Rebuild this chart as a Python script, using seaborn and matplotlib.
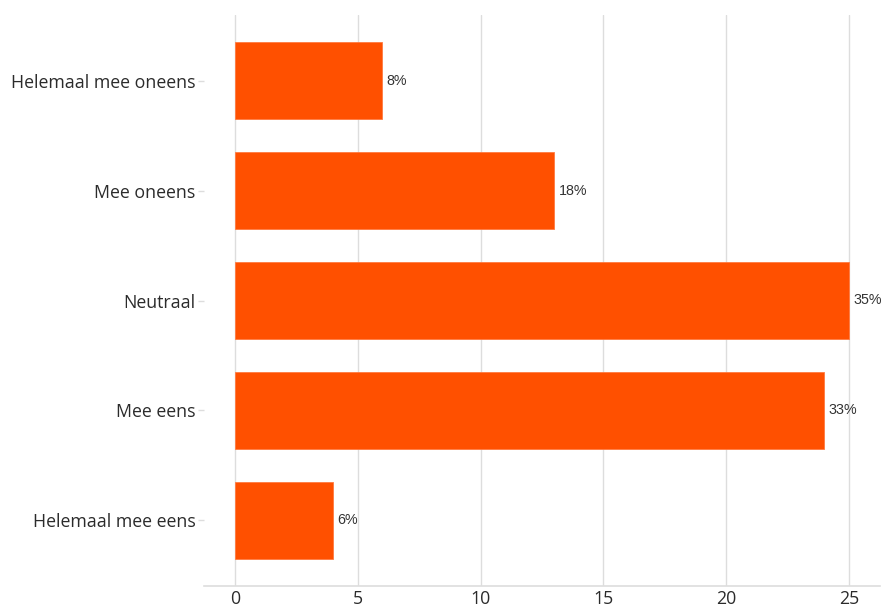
import matplotlib
matplotlib.use("Agg")
import matplotlib.pyplot as plt
import seaborn as sns
import pandas as pd

categories = ["Helemaal mee oneens", "Mee oneens", "Neutraal", "Mee eens", "Helemaal mee eens"]
counts = [6, 13, 25, 24, 4]
pct_labels = ["8%", "18%", "35%", "33%", "6%"]

sns.set_theme(style="white")
plt.rcParams['font.family'] = ['Open Sans', 'DejaVu Sans']

df = pd.DataFrame({"cat": categories, "n": counts})

fig = plt.figure(figsize=(8.86, 6.08), dpi=100)
ax = fig.add_axes([204/886, 1 - 586/608, (880 - 204)/886, (586 - 15)/608])

sns.barplot(data=df, y="cat", x="n", orient="h", color="#FF5000", width=0.7,
            saturation=1, ax=ax, zorder=3, edgecolor="#FF7A40", linewidth=0.6)

for i, (v, lab) in enumerate(zip(counts, pct_labels)):
    ax.text(v + 0.17, i, lab, va="center", ha="left", fontsize=10.3,
            color="#333333", family=["Liberation Sans", "DejaVu Sans"])

ax.set_xlim(-1.26, 26.26)
ax.set_ylim(4.6, -0.6)
ax.set_xticks([0, 5, 10, 15, 20, 25])
ax.xaxis.grid(True, color="#DDDDDD", linewidth=1, zorder=0)
ax.yaxis.grid(False)
for s in ["top", "right", "left"]:
    ax.spines[s].set_visible(False)
ax.spines["bottom"].set_color("#DDDDDD")
ax.spines["bottom"].set_linewidth(1.2)
ax.set_xlabel("")
ax.set_ylabel("")
ax.tick_params(axis="x", length=0, labelsize=12.8, labelcolor="#2b2b2b", pad=3)
ax.tick_params(axis="y", length=4, width=1, color="#DDDDDD", labelsize=12.8,
               labelcolor="#2b2b2b", pad=2, left=True)

fig.savefig("out.png", dpi=100)
